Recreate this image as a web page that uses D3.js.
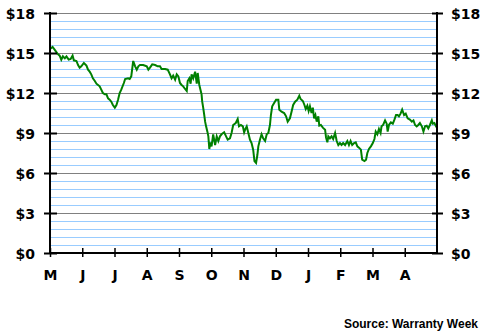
<!DOCTYPE html>
<html>
<head>
<meta charset="utf-8">
<script src="https://cdn.jsdelivr.net/npm/d3@7"></script>
<style>
  body { margin: 0; background: #fff; }
  svg { display: block; }
  .tick text { font-family: "DejaVu Sans", Verdana, sans-serif; font-weight: bold; font-size: 14px; fill: #000; }
</style>
</head>
<body>
<div class="chart"></div>
<script>
var width = 485,
    height = 333;

var monthLabels = ['M','J','J','A','S','O','N','D','J','F','M','A'];
var yTicks = [0, 3, 6, 9, 12, 15, 18];

// [months since start of May, share price $]
var prices = [
  [0.00,15.30],[0.08,15.45],[0.16,15.20],[0.23,14.95],[0.30,14.80],[0.35,14.50],[0.40,14.75],
  [0.46,14.60],[0.51,14.75],[0.58,14.50],[0.64,14.55],[0.70,14.80],[0.74,14.45],[0.82,14.40],
  [0.87,14.10],[0.92,13.90],[0.97,14.00],[1.05,14.25],[1.13,14.05],[1.18,13.75],[1.23,13.60],
  [1.28,13.40],[1.33,13.10],[1.39,12.90],[1.44,12.70],[1.49,12.60],[1.54,12.50],[1.59,12.25],
  [1.64,12.00],[1.70,11.90],[1.75,11.90],[1.80,11.60],[1.85,11.50],[1.90,11.35],[1.95,11.10],
  [2.01,10.90],[2.06,11.10],[2.11,11.50],[2.16,12.00],[2.21,12.25],[2.29,12.75],[2.33,13.05],
  [2.42,13.10],[2.47,13.05],[2.52,13.25],[2.58,14.40],[2.64,14.00],[2.69,13.75],[2.74,14.00],
  [2.79,14.10],[2.89,14.10],[3.00,14.00],[3.05,13.75],[3.10,13.90],[3.17,14.15],[3.26,14.10],
  [3.34,14.00],[3.41,14.00],[3.46,13.80],[3.57,13.80],[3.65,13.75],[3.72,13.40],[3.77,13.10],
  [3.82,13.30],[3.88,13.00],[3.93,13.40],[3.98,13.25],[4.03,12.75],[4.08,12.60],[4.13,12.50],
  [4.19,12.30],[4.24,12.15],[4.27,12.90],[4.32,13.10],[4.36,12.70],[4.39,13.40],[4.44,13.10],
  [4.50,13.60],[4.55,12.70],[4.58,13.50],[4.63,12.60],[4.68,12.10],[4.70,11.90],[4.72,11.35],
  [4.75,10.90],[4.78,10.40],[4.81,9.85],[4.84,9.50],[4.88,9.10],[4.91,8.75],[4.94,7.80],
  [4.97,8.30],[5.01,8.00],[5.06,8.90],[5.12,8.10],[5.17,8.75],[5.22,8.40],[5.27,8.75],
  [5.32,8.90],[5.40,9.05],[5.46,8.75],[5.51,8.50],[5.58,8.60],[5.63,9.00],[5.68,9.60],
  [5.76,9.75],[5.82,10.05],[5.86,9.50],[5.92,9.60],[5.98,9.50],[6.02,9.05],[6.05,9.25],
  [6.10,9.50],[6.15,9.00],[6.20,8.50],[6.25,8.25],[6.30,7.75],[6.34,6.90],[6.39,6.75],
  [6.43,7.35],[6.46,8.00],[6.51,8.50],[6.56,8.90],[6.61,8.60],[6.67,8.40],[6.72,8.90],
  [6.77,9.00],[6.82,9.60],[6.85,10.35],[6.89,11.00],[6.95,11.25],[7.01,11.50],[7.08,11.50],
  [7.11,10.75],[7.18,10.60],[7.26,10.50],[7.32,10.25],[7.37,9.85],[7.44,10.10],[7.49,10.60],
  [7.54,11.10],[7.60,11.35],[7.67,11.50],[7.73,11.80],[7.77,11.55],[7.84,11.40],[7.89,11.10],
  [7.93,10.80],[7.98,11.05],[8.02,10.65],[8.06,11.00],[8.11,10.50],[8.15,10.90],[8.19,10.10],
  [8.23,10.35],[8.27,9.85],[8.32,10.25],[8.35,9.55],[8.40,9.60],[8.46,9.40],[8.53,9.25],
  [8.56,8.65],[8.60,8.30],[8.63,8.75],[8.68,8.60],[8.73,8.75],[8.78,8.55],[8.84,9.00],
  [8.89,8.40],[8.94,8.10],[8.99,8.25],[9.04,8.10],[9.09,8.25],[9.15,8.10],[9.22,8.40],
  [9.27,8.10],[9.32,8.40],[9.37,8.10],[9.43,8.25],[9.48,8.30],[9.53,8.00],[9.58,7.90],
  [9.64,7.75],[9.68,7.00],[9.75,6.90],[9.80,7.00],[9.84,7.50],[9.89,7.80],[9.95,8.00],
  [10.01,8.25],[10.06,8.55],[10.10,9.10],[10.15,8.90],[10.20,9.30],[10.25,9.00],[10.28,9.50],
  [10.33,9.60],[10.39,9.95],[10.44,9.70],[10.47,9.10],[10.51,9.60],[10.57,9.80],[10.63,9.70],
  [10.68,10.00],[10.73,10.35],[10.78,10.35],[10.82,10.25],[10.87,10.45],[10.92,10.75],[10.98,10.35],
  [11.03,10.45],[11.09,10.10],[11.16,10.00],[11.22,9.85],[11.27,9.95],[11.32,9.60],[11.37,9.50],
  [11.42,9.60],[11.47,9.75],[11.53,9.50],[11.58,9.10],[11.63,9.50],[11.68,9.55],[11.73,9.35],
  [11.78,9.60],[11.84,9.95],[11.87,9.70],[11.92,9.75],[11.97,9.50],[12.00,9.55]
];

var plotLeft = 50, plotRight = 437, plotTop = 13, plotBottom = 253;

var x = d3.scaleLinear().domain([0, 12]).range([plotLeft, plotRight]);
var y = d3.scaleLinear().domain([0, 18]).range([plotBottom, plotTop]);

var svg = d3.select(".chart").append("svg")
    .attr("width", width)
    .attr("height", height);

// grid lines every $0.60, grey on the labelled values
var grid = d3.range(1, 31);
svg.append("g").selectAll("rect")
    .data(grid)
    .enter().append("rect")
    .attr("x", plotLeft)
    .attr("width", plotRight - plotLeft)
    .attr("y", function(d) { return Math.round(y(d * 0.6)); })
    .attr("height", 1)
    .attr("fill", function(d) { return d % 5 == 0 ? "#808080" : "#99ccff"; });

// price line
var line = d3.line()
    .x(function(d) { return x(d[0]); })
    .y(function(d) { return y(d[1]); });

svg.append("path")
    .datum(prices)
    .attr("fill", "none")
    .attr("stroke", "#008000")
    .attr("stroke-width", 2)
    .attr("d", line);

// axes
var yLeft = d3.axisLeft(y).tickValues(yTicks).tickFormat(function(d) { return "$" + d; }).tickSize(6);
var yRight = d3.axisRight(y).tickValues(yTicks).tickFormat(function(d) { return "$" + d; }).tickSize(6);
var xAxis = d3.axisBottom(x).tickValues(d3.range(0, 12))
    .tickFormat(function(d) { return monthLabels[d]; })
    .tickSize(5);

function styleAxis(g) {
  g.select(".domain").remove();
  g.selectAll(".tick line").attr("stroke", "#000").attr("stroke-width", 2);
  g.selectAll(".tick text").attr("font-family", null).attr("font-size", null);
}

var gl = svg.append("g").attr("transform", "translate(" + plotLeft + ",0)").call(yLeft);
styleAxis(gl);
gl.selectAll(".tick line").attr("x2", -6).attr("x1", 7);
gl.selectAll(".tick text").attr("x", -15).attr("dy", "0.36em");

var gr = svg.append("g").attr("transform", "translate(" + plotRight + ",0)").call(yRight);
styleAxis(gr);
gr.selectAll(".tick line").attr("x1", -5).attr("x2", 6);
gr.selectAll(".tick text").attr("x", 14).attr("dy", "0.36em");

var gx = svg.append("g").attr("transform", "translate(0," + plotBottom + ")").call(xAxis);
styleAxis(gx);
gx.selectAll(".tick line").attr("y1", -5).attr("y2", 4).attr("stroke-width", 1.5);
gx.selectAll(".tick text").attr("y", 17);

// axis lines
svg.append("line").attr("x1", plotLeft).attr("x2", plotLeft).attr("y1", plotTop - 1).attr("y2", plotBottom + 1)
    .attr("stroke", "#000").attr("stroke-width", 2);
svg.append("line").attr("x1", plotRight).attr("x2", plotRight).attr("y1", plotTop - 1).attr("y2", plotBottom + 1)
    .attr("stroke", "#000").attr("stroke-width", 2);
svg.append("line").attr("x1", plotLeft).attr("x2", plotRight).attr("y1", plotBottom).attr("y2", plotBottom)
    .attr("stroke", "#000").attr("stroke-width", 2);

svg.append("text")
    .attr("x", 478)
    .attr("y", 328)
    .attr("text-anchor", "end")
    .style("font-family", "Arial, 'Liberation Sans', sans-serif")
    .style("font-weight", "bold")
    .style("font-size", "12px")
    .text("Source: Warranty Week");
</script>
</body>
</html>
